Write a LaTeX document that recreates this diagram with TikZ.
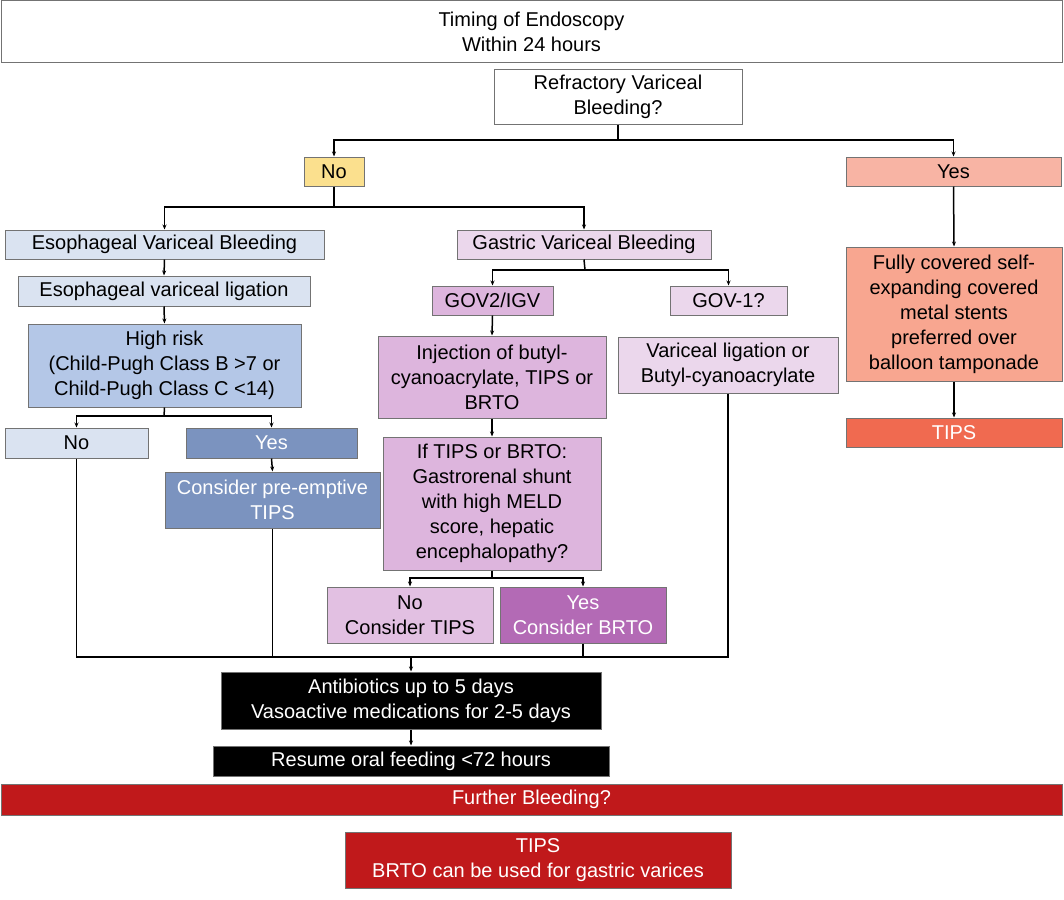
\documentclass[tikz,border=0pt]{standalone}
\usepackage{fontspec}
\setmainfont{Liberation Sans}
\usetikzlibrary{arrows.meta}
\begin{document}
\begin{tikzpicture}[x=1pt,y=-1pt,
  box/.style={draw=black!55,line width=1pt,inner sep=0pt,align=center,font=\fontsize{20}{25}\selectfont},
  wbox/.style={box,text=white},
  ln/.style={line width=1.5pt},
  ar/.style={line width=1.5pt,-{Stealth[length=5pt,width=4pt]}}]
\useasboundingbox (0,0) rectangle (1064,899);
\newcommand{\bx}[7]{\node[#1,fill=#2,minimum width={#5-#3},minimum height={#6-#4}] (#7) at ({(#3+#5)/2},{(#4+#6)/2})}
\definecolor{yel}{HTML}{FBE08E}
\definecolor{sal}{HTML}{F8B4A4}
\definecolor{sal2}{HTML}{F8A690}
\definecolor{red1}{HTML}{F06A50}
\definecolor{lb}{HTML}{DAE3F1}
\definecolor{mb}{HTML}{B4C7E7}
\definecolor{db}{HTML}{7B93BF}
\definecolor{lp}{HTML}{EBD7EC}
\definecolor{mp}{HTML}{DDB5DD}
\definecolor{dp}{HTML}{B36AB5}
\definecolor{dred}{HTML}{C0191B}
\bx{box}{white}{1}{1}{1062}{62}{top} {Timing of Endoscopy\\Within 24 hours};
\bx{box}{white}{494}{69}{742}{124}{refr} {Refractory Variceal\\Bleeding?};
\bx{box}{yel}{304}{157}{364}{186}{no1} {No};
\bx{box}{sal}{846}{157}{1061}{186}{yes1} {Yes};
\bx{box}{lb}{5}{230}{324}{259}{evb} {Esophageal Variceal Bleeding};
\bx{box}{lp}{457}{230}{711}{259}{gvb} {Gastric Variceal Bleeding};
\bx{box}{lb}{18}{276}{310}{306}{evl} {Esophageal variceal ligation};
\bx{box}{mb}{28}{324}{301}{407}{hr} {High risk\\(Child-Pugh Class B >7 or\\Child-Pugh Class C <14)};
\bx{box}{lb}{5}{428}{148}{458}{no2} {No};
\bx{wbox}{db}{186}{428}{357}{458}{yes2} {Yes};
\bx{wbox}{db}{165}{472}{380}{528}{pre} {Consider pre-emptive\\TIPS};
\bx{box}{mp}{432}{286}{553}{315}{gov2} {GOV2/IGV};
\bx{box}{lp}{670}{286}{787}{315}{gov1} {GOV-1?};
\bx{box}{mp}{378}{336}{606}{418}{inj} {Injection of butyl-\\cyanoacrylate, TIPS or\\BRTO};
\bx{box}{lp}{618}{337}{838}{393}{vl} {Variceal ligation or\\Butyl-cyanoacrylate};
\bx{box}{mp}{383}{437}{601}{570}{ift} {If TIPS or BRTO:\\Gastrorenal shunt\\with high MELD\\score, hepatic\\encephalopathy?};
\bx{box}{mp!85!white}{327}{587}{493}{643}{notips} {No\\Consider TIPS};
\bx{wbox}{dp}{500}{587}{666}{643}{brto} {Yes\\Consider BRTO};
\bx{box}{sal2}{846}{247}{1062}{381}{fcs} {Fully covered self-\\expanding covered\\metal stents\\preferred over\\balloon tamponade};
\bx{wbox}{red1}{846}{418}{1062}{447}{tips1} {TIPS};
\bx{wbox}{black}{221}{672}{601}{729}{abx} {Antibiotics up to 5 days\\Vasoactive medications for 2-5 days};
\bx{wbox}{black}{213}{746}{609}{776}{res} {Resume oral feeding <72 hours};
\bx{wbox}{dred}{1}{784}{1062}{815}{fb} {Further Bleeding?};
\bx{wbox}{dred}{345}{832}{731}{888}{fin} {TIPS\\BRTO can be used for gastric varices};
% connectors
\coordinate (j1) at (618,140);
\draw[ln] (refr.south) -- (j1);
\draw[ar] (j1) -| (no1.north);
\draw[ar] (j1) -| (yes1.north);
\coordinate (j2) at (334,207);
\draw[ln] (no1.south) -- (j2);
\draw[ar] (j2) -| (evb.north);
\draw[ar] (j2) -| (gvb.north);
\draw[ar] (evb.south) -- (evl.north);
\draw[ar] (evl.south) -- (hr.north);
\coordinate (j3) at (164,416);
\draw[ln] (hr.south) -- (j3);
\draw[ar] (j3) -| (no2.north);
\draw[ar] (j3) -| (yes2.north);
\draw[ar] (yes2.south) -- (pre.north);
\coordinate (j4) at (585,270);
\draw[ln] (gvb.south) -- (j4);
\draw[ar] (j4) -| (gov2.north);
\draw[ar] (j4) -| (gov1.north);
\draw[ar] (gov2.south) -- (inj.north);
\draw[ar] (inj.south -| ift.north) -- (ift.north);
\coordinate (j5) at (492,578);
\draw[ln] (ift.south) -- (j5);
\draw[ar] (j5) -| (notips.north);
\draw[ar] (j5) -| (brto.north);
\coordinate (m) at (411,657);
\draw[ln] (no2.south) |- (m);
\draw[ln] (pre.south) |- (m);
\draw[ln] (brto.south) |- (m);
\draw[ln] (vl.south) |- (m);
\draw[ar] (m) -- (abx.north);
\draw[ar] (abx.south) -- (res.north);
\draw[ar] (yes1.south) -- (fcs.north);
\draw[ar] (fcs.south) -- (tips1.north);
\end{tikzpicture}
\end{document}
